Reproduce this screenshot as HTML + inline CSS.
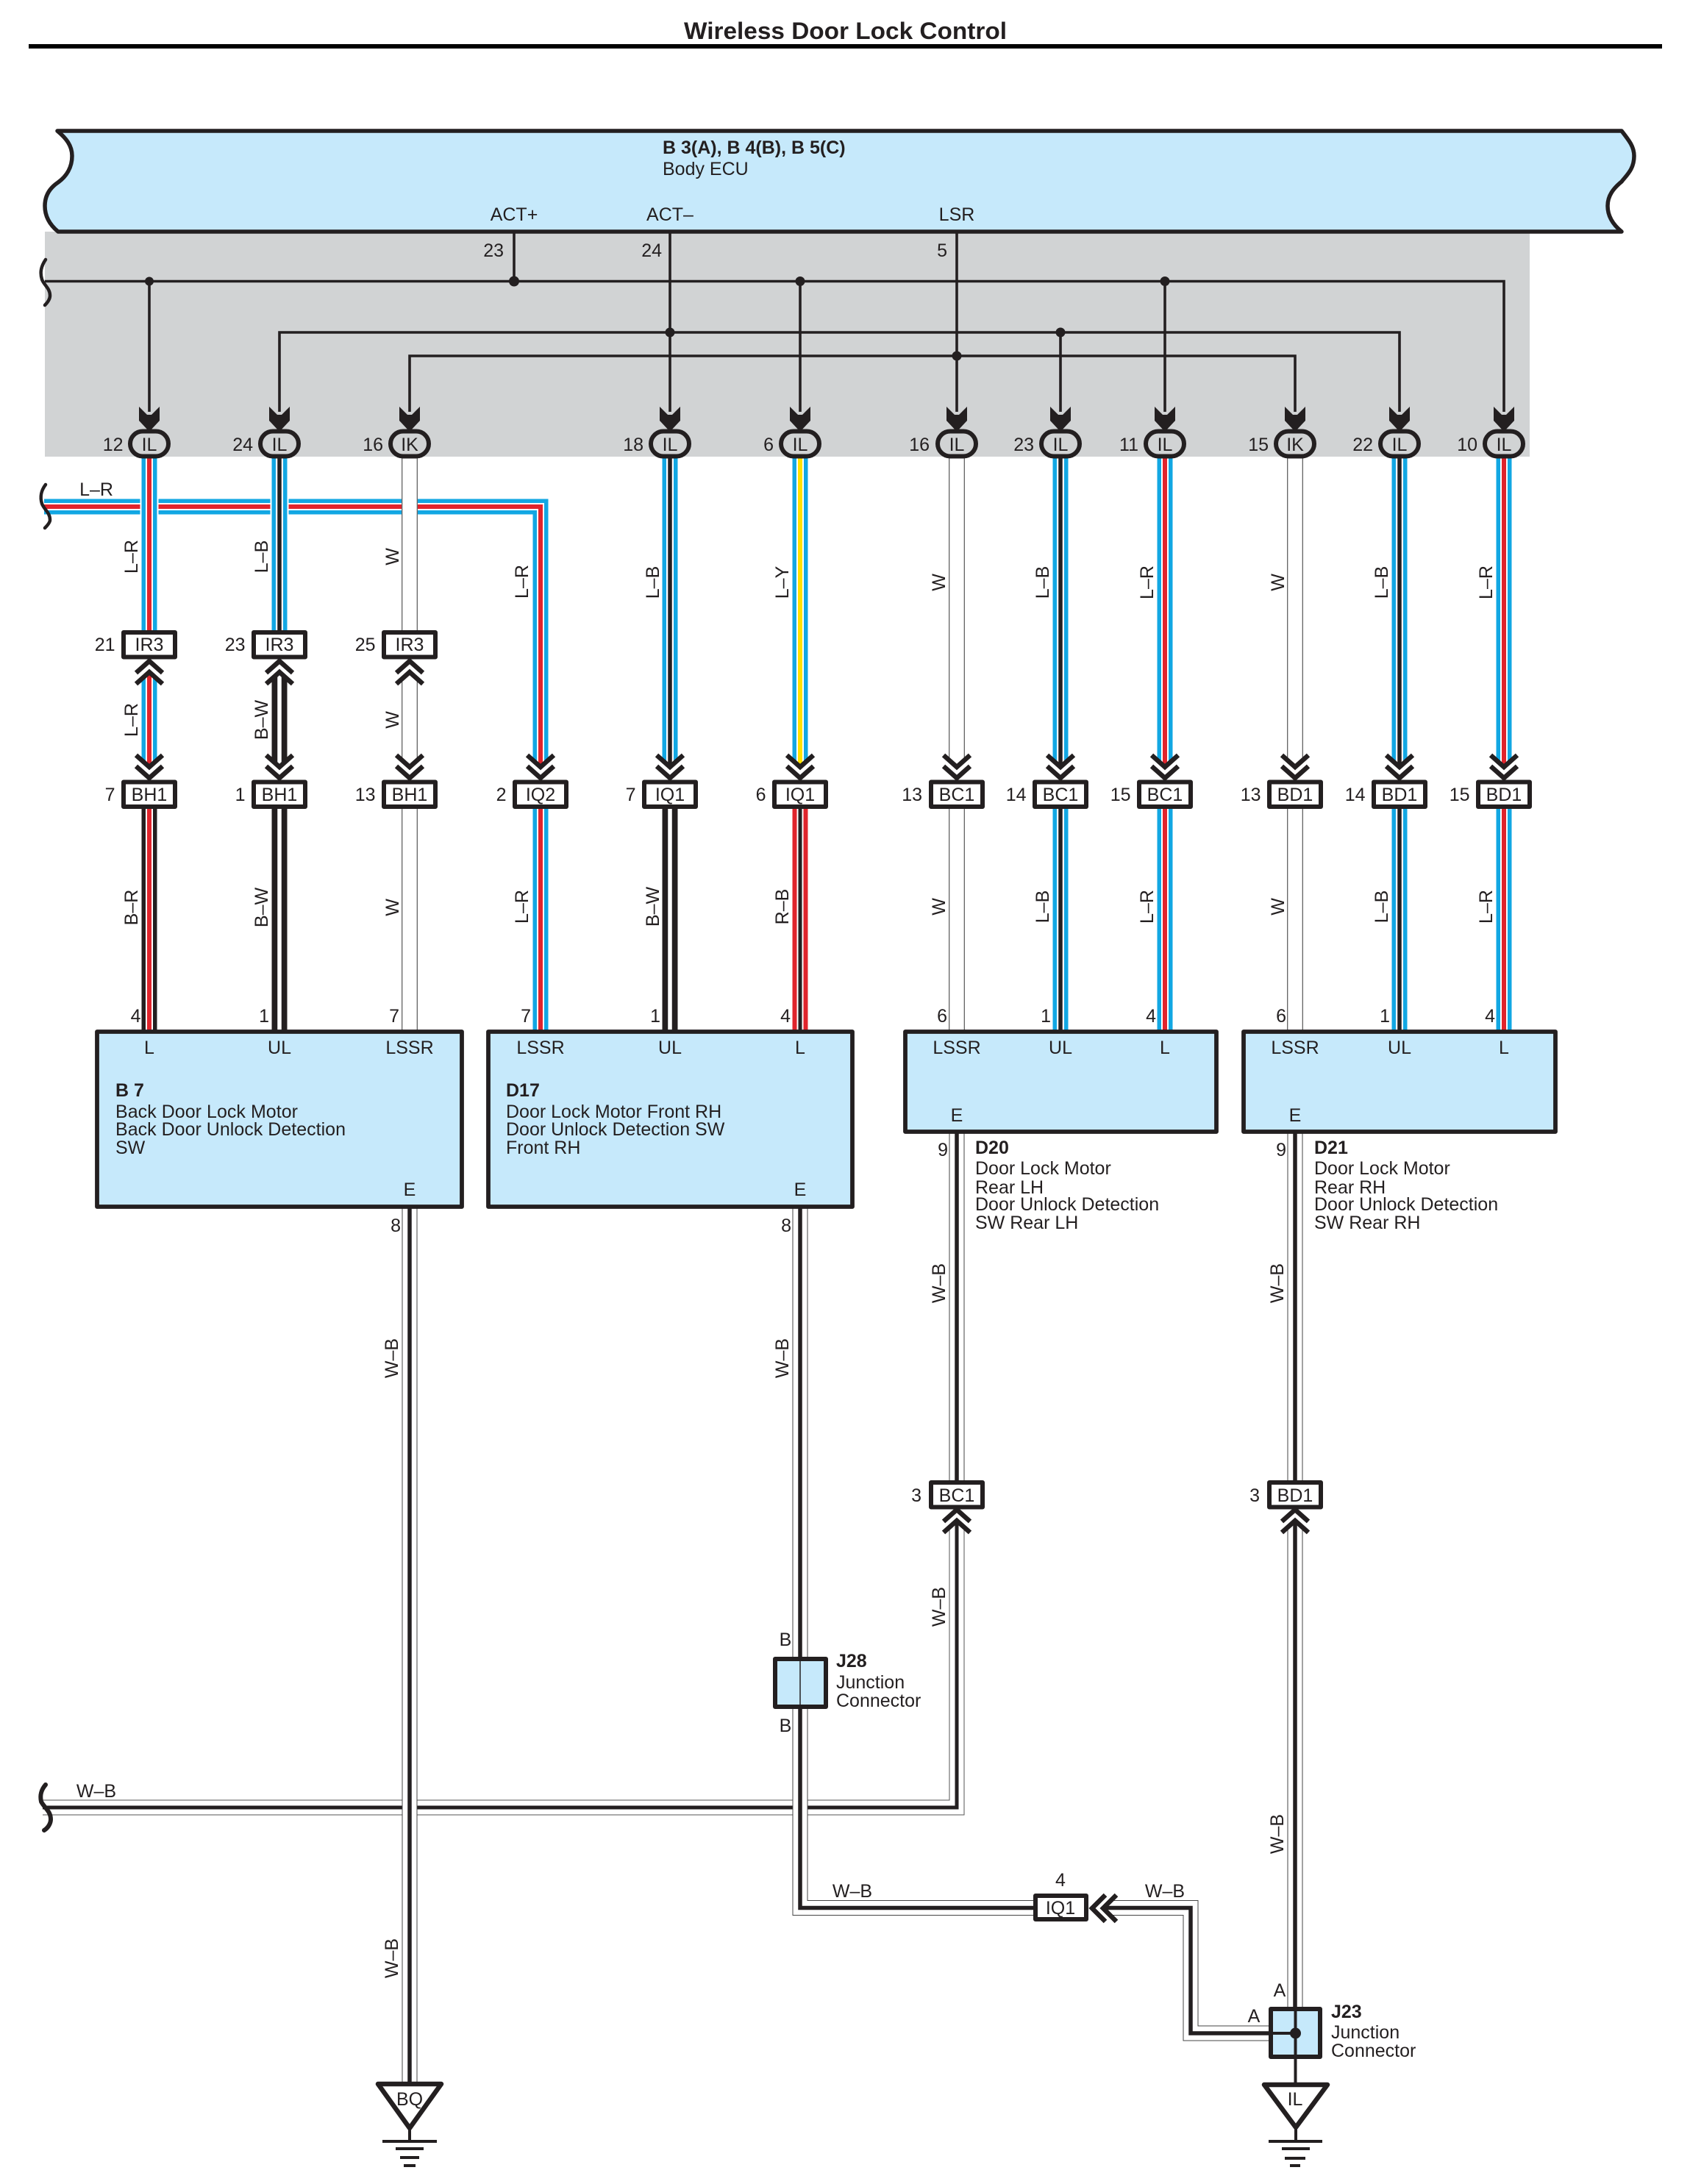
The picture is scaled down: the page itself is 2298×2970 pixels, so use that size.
<!DOCTYPE html>
<html><head><meta charset="utf-8"><title>Wireless Door Lock Control</title>
<style>
html,body{margin:0;padding:0;background:#fff}
svg{display:block}
text{font-family:"Liberation Sans",sans-serif;font-size:25px;fill:#231f20}
.b{font-weight:bold}
.m{text-anchor:middle}
.e{text-anchor:end}
.f{fill:none;stroke-linejoin:miter}
</style></head><body>
<svg xmlns="http://www.w3.org/2000/svg" width="2298" height="2970" viewBox="0 0 2298 2970">
<defs>
<path id="lrV" d="M203 604V876M203 914V1045M735 1080V1403M1584 604V1045M1584 1080V1403M2045 604V1045M2045 1080V1403"/>
<path id="lrH" d="M60 689H735V1045"/>
<path id="br" d="M203 1080V1403"/>
<path id="lb" d="M380 604V876M911 604V1045M1442 604V1045M1442 1080V1403M1903 604V1045M1903 1080V1403"/>
<path id="bw" d="M380 914V1045M380 1080V1403M911 1080V1403"/>
<path id="w" d="M557 604V876M557 914V1045M557 1080V1403M1301 604V1045M1301 1080V1403M1761 604V1045M1761 1080V1403"/>
<path id="ly" d="M1088 604V1045"/>
<path id="rb" d="M1088 1080V1403"/>
<path id="wb1" d="M58 2458H1301V2068"/>
<path id="wb2" d="M1301 1536V2032M1761 1536V2032M1761 2068V2731M557 1640V2832M1088 1640V2594.5H1442M1499 2594.5H1619V2765H1725"/>
<g id="up"><polygon points="-20,5 20,5 20,33 0,15 -20,33" fill="#fff"/><polyline class="f" points="-18,18 0,2 18,18" stroke="#231f20" stroke-width="6.5"/><polyline class="f" points="-18,33 0,17 18,33" stroke="#231f20" stroke-width="6.5"/></g>
<g id="dn"><polygon points="-20,-5 20,-5 20,-33 0,-15 -20,-33" fill="#fff"/><polyline class="f" points="-18,-18 0,-2 18,-18" stroke="#231f20" stroke-width="6.5"/><polyline class="f" points="-18,-33 0,-17 18,-33" stroke="#231f20" stroke-width="6.5"/></g>
<g id="ov"><polygon points="-14,553 -3,564 3,564 14,553 14,572 0,587 -14,572" fill="#231f20"/><rect x="-26" y="586.5" width="52" height="34" rx="17" fill="#d1d3d4" stroke="#231f20" stroke-width="6"/></g>
<rect id="bx" x="-35" y="0" width="70" height="33.5" fill="#fff" stroke="#231f20" stroke-width="6" stroke-linejoin="round"/>
</defs>

<rect width="2298" height="2970" fill="#fff"/>
<text x="930" y="53" class="b" style="font-size:32px" textLength="439" lengthAdjust="spacingAndGlyphs">Wireless Door Lock Control</text>
<rect x="39" y="60" width="2221" height="6" fill="#000"/>

<rect x="61" y="315" width="2019" height="306" fill="#d1d3d4"/>
<path d="M78 178H2205C2216 192 2222 200 2222 212C2222 230 2212 238 2205 247C2194 256 2186 266 2186 280C2186 295 2194 306 2205 315H79C68 306 61 295 61 280C61 264 70 254 79 248C90 240 98 228 98 212C98 198 90 188 78 178Z" fill="#c6e9fb" stroke="#231f20" stroke-width="5.5" stroke-linejoin="round"/>

<!-- internal ECU lines -->
<g fill="none" stroke="#231f20" stroke-width="3.6">
<path d="M61 382.5H2045V560"/>
<path d="M380 560V452H1903V560"/>
<path d="M557 560V484H1761V560"/>
<path d="M699 315V382M911 315V560M1301 315V560M203 382V560M1088 382V560M1442 452V560M1584 382V560"/>
</g>
<g fill="#231f20">
<circle cx="203" cy="382.5" r="6"/><circle cx="699" cy="382.5" r="7"/><circle cx="1088" cy="382.5" r="6.5"/><circle cx="1584" cy="382.5" r="6.5"/>
<circle cx="911" cy="452" r="6.5"/><circle cx="1442" cy="452" r="6.5"/><circle cx="1301" cy="484" r="6.5"/>
</g>

<!-- horizontal L-R wire -->
<g fill="none">
<use href="#lrH" stroke="#12a7e3" stroke-width="21"/><use href="#lrH" stroke="#fff" stroke-width="10"/><use href="#lrH" stroke="#e0242c" stroke-width="6"/>
</g>
<!-- vertical wires with halo -->
<g fill="none">
<use href="#lrV" stroke="#fff" stroke-width="25"/>
<use href="#lb" stroke="#fff" stroke-width="25"/>
<use href="#w" stroke="#fff" stroke-width="22"/>
<use href="#lrV" stroke="#12a7e3" stroke-width="21"/><use href="#lrV" stroke="#fff" stroke-width="10"/><use href="#lrV" stroke="#e0242c" stroke-width="6"/>
<use href="#br" stroke="#231f20" stroke-width="21"/><use href="#br" stroke="#fff" stroke-width="10"/><use href="#br" stroke="#e0242c" stroke-width="6"/>
<use href="#lb" stroke="#12a7e3" stroke-width="21"/><use href="#lb" stroke="#fff" stroke-width="10"/><use href="#lb" stroke="#231f20" stroke-width="5.5"/>
<use href="#bw" stroke="#231f20" stroke-width="21"/><use href="#bw" stroke="#fff" stroke-width="5.5"/>
<use href="#w" stroke="#333" stroke-width="21.5"/><use href="#w" stroke="#fff" stroke-width="19.5"/>
<use href="#ly" stroke="#12a7e3" stroke-width="21"/><use href="#ly" stroke="#fff" stroke-width="10"/><use href="#ly" stroke="#ffe100" stroke-width="6"/>
<use href="#rb" stroke="#e0242c" stroke-width="21"/><use href="#rb" stroke="#fff" stroke-width="9"/><use href="#rb" stroke="#231f20" stroke-width="5"/>
<use href="#wb1" stroke="#555" stroke-width="21"/><use href="#wb1" stroke="#fff" stroke-width="19"/><use href="#wb1" stroke="#231f20" stroke-width="5"/>
<use href="#wb2" stroke="#444" stroke-width="21"/><use href="#wb2" stroke="#fff" stroke-width="19"/><use href="#wb2" stroke="#231f20" stroke-width="5.5"/>
</g>
<g fill="none" stroke="#231f20" stroke-linecap="round">
<path stroke-width="4.5" d="M62 353C56 362 54 370 57 380C60 388 68 392 68 402C68 406 65 411 61 415"/>
<path stroke-width="4.5" d="M62 659C56 667 54 675 57 685C60 693 68 697 68 707C68 710 65 714 61 718"/>
<path stroke-width="6" d="M62 2427C56 2434 54 2441 56 2450C60 2458 69 2463 69 2474C69 2480 65 2486 60 2489"/>
</g>

<!-- ovals -->
<use href="#ov" x="203"/><use href="#ov" x="380"/><use href="#ov" x="557"/><use href="#ov" x="911"/><use href="#ov" x="1088"/><use href="#ov" x="1301"/><use href="#ov" x="1442"/><use href="#ov" x="1584"/><use href="#ov" x="1761"/><use href="#ov" x="1903"/><use href="#ov" x="2045"/>

<!-- inline boxes -->
<use href="#bx" x="203" y="860"/><use href="#bx" x="380" y="860"/><use href="#bx" x="557" y="860"/>
<use href="#bx" x="203" y="1063.5"/><use href="#bx" x="380" y="1063.5"/><use href="#bx" x="557" y="1063.5"/><use href="#bx" x="735" y="1063.5"/><use href="#bx" x="911" y="1063.5"/><use href="#bx" x="1088" y="1063.5"/><use href="#bx" x="1301" y="1063.5"/><use href="#bx" x="1442" y="1063.5"/><use href="#bx" x="1584" y="1063.5"/><use href="#bx" x="1761" y="1063.5"/><use href="#bx" x="1903" y="1063.5"/><use href="#bx" x="2045" y="1063.5"/>
<use href="#bx" x="1301" y="2016"/><use href="#bx" x="1761" y="2016"/>
<rect x="1408" y="2578" width="69" height="32" fill="#fff" stroke="#231f20" stroke-width="6" stroke-linejoin="round"/>

<!-- chevrons -->
<use href="#up" x="203" y="897"/><use href="#up" x="380" y="897"/><use href="#up" x="557" y="897"/>
<use href="#up" x="1301" y="2051"/><use href="#up" x="1761" y="2051"/>
<use href="#dn" x="203" y="1060"/><use href="#dn" x="380" y="1060"/><use href="#dn" x="557" y="1060"/><use href="#dn" x="735" y="1060"/><use href="#dn" x="911" y="1060"/><use href="#dn" x="1088" y="1060"/><use href="#dn" x="1301" y="1060"/><use href="#dn" x="1442" y="1060"/><use href="#dn" x="1584" y="1060"/><use href="#dn" x="1761" y="1060"/><use href="#dn" x="1903" y="1060"/><use href="#dn" x="2045" y="1060"/>
<polygon points="1488,2576 1518,2576 1499,2595 1518,2614 1488,2614" fill="#fff"/>
<polyline class="f" points="1503,2577 1485,2595 1503,2613" stroke="#231f20" stroke-width="6.5"/>
<polyline class="f" points="1518,2577 1500,2595 1518,2613" stroke="#231f20" stroke-width="6.5"/>

<!-- modules -->
<g fill="#c6e9fb" stroke="#231f20" stroke-width="5.8" stroke-linejoin="round">
<rect x="132" y="1403" width="496" height="238"/>
<rect x="664" y="1403" width="495" height="238"/>
<rect x="1231" y="1403" width="423" height="136"/>
<rect x="1691" y="1403" width="424" height="136"/>
<rect x="1054" y="2256" width="69" height="65" stroke-width="6"/>
<rect x="1728" y="2732" width="67" height="65" stroke-width="6"/>
</g>
<path d="M1088 2256V2321" stroke="#231f20" stroke-width="1.5"/>
<path d="M1761.5 2732V2832M1728 2765H1761" stroke="#231f20" stroke-width="4"/>
<circle cx="1761.5" cy="2765" r="7.5" fill="#231f20"/>

<!-- grounds -->
<polygon points="514,2834 600,2834 557,2894" fill="#fff" stroke="#231f20" stroke-width="6.5" stroke-linejoin="round"/>
<path d="M557 2895V2912" stroke="#231f20" stroke-width="4"/>
<path d="M520 2912H594M538 2922H576M544 2934H570M549 2945H565" stroke="#231f20" stroke-width="4"/>
<polygon points="1719,2835 1805,2835 1762,2893" fill="#fff" stroke="#231f20" stroke-width="6.5" stroke-linejoin="round"/>
<path d="M1762 2895V2912" stroke="#231f20" stroke-width="4"/>
<path d="M1725 2912H1798M1743 2922H1781M1747 2935H1775M1754 2945H1768" stroke="#231f20" stroke-width="4"/>

<!-- ECU labels -->
<text x="901" y="209" class="b">B 3(A), B 4(B), B 5(C)</text>
<text x="901" y="238">Body ECU</text>
<text x="699" y="300" class="m">ACT+</text>
<text x="911" y="300" class="m">ACT–</text>
<text x="1301" y="300" class="m">LSR</text>
<text x="685" y="349" class="e">23</text>
<text x="900" y="349" class="e">24</text>
<text x="1288" y="349" class="e">5</text>

<!-- oval labels -->
<text x="203" y="613" class="m">IL</text><text x="380" y="613" class="m">IL</text><text x="557" y="613" class="m">IK</text><text x="911" y="613" class="m">IL</text><text x="1088" y="613" class="m">IL</text><text x="1301" y="613" class="m">IL</text><text x="1442" y="613" class="m">IL</text><text x="1584" y="613" class="m">IL</text><text x="1761" y="613" class="m">IK</text><text x="1903" y="613" class="m">IL</text><text x="2045" y="613" class="m">IL</text>
<text x="167.5" y="613" class="e">12</text><text x="344" y="613" class="e">24</text><text x="521" y="613" class="e">16</text><text x="875" y="613" class="e">18</text><text x="1052" y="613" class="e">6</text><text x="1264" y="613" class="e">16</text><text x="1406" y="613" class="e">23</text><text x="1548" y="613" class="e">11</text><text x="1725" y="613" class="e">15</text><text x="1867" y="613" class="e">22</text><text x="2009" y="613" class="e">10</text>

<!-- box labels -->
<text x="203" y="885" class="m">IR3</text><text x="380" y="885" class="m">IR3</text><text x="557" y="885" class="m">IR3</text>
<text x="156.5" y="885" class="e">21</text><text x="333.5" y="885" class="e">23</text><text x="510.5" y="885" class="e">25</text>
<text x="203" y="1089" class="m">BH1</text><text x="380" y="1089" class="m">BH1</text><text x="557" y="1089" class="m">BH1</text><text x="735" y="1089" class="m">IQ2</text><text x="911" y="1089" class="m">IQ1</text><text x="1088" y="1089" class="m">IQ1</text><text x="1301" y="1089" class="m">BC1</text><text x="1442" y="1089" class="m">BC1</text><text x="1584" y="1089" class="m">BC1</text><text x="1761" y="1089" class="m">BD1</text><text x="1903" y="1089" class="m">BD1</text><text x="2045" y="1089" class="m">BD1</text>
<text x="156.5" y="1089" class="e">7</text><text x="333.5" y="1089" class="e">1</text><text x="510.5" y="1089" class="e">13</text><text x="688.5" y="1089" class="e">2</text><text x="864.5" y="1089" class="e">7</text><text x="1041.5" y="1089" class="e">6</text><text x="1254" y="1089" class="e">13</text><text x="1395.5" y="1089" class="e">14</text><text x="1537.5" y="1089" class="e">15</text><text x="1714.5" y="1089" class="e">13</text><text x="1856.5" y="1089" class="e">14</text><text x="1998.5" y="1089" class="e">15</text>
<text x="1301" y="2042" class="m">BC1</text><text x="1761" y="2042" class="m">BD1</text>
<text x="1253" y="2042" class="e">3</text><text x="1713" y="2042" class="e">3</text>
<text x="1442" y="2603" class="m">IQ1</text><text x="1442" y="2565" class="m">4</text>

<!-- rotated wire labels -->
<text class="m" transform="translate(187,757) rotate(-90)">L–R</text>
<text class="m" transform="translate(187,979) rotate(-90)">L–R</text>
<text class="m" transform="translate(187,1234) rotate(-90)">B–R</text>
<text class="m" transform="translate(364,757) rotate(-90)">L–B</text>
<text class="m" transform="translate(364,979) rotate(-90)">B–W</text>
<text class="m" transform="translate(364,1234) rotate(-90)">B–W</text>
<text class="m" transform="translate(542,757) rotate(-90)">W</text>
<text class="m" transform="translate(542,979) rotate(-90)">W</text>
<text class="m" transform="translate(542,1234) rotate(-90)">W</text>
<text class="m" transform="translate(718,791) rotate(-90)">L–R</text>
<text class="m" transform="translate(718,1233) rotate(-90)">L–R</text>
<text class="m" transform="translate(896,792) rotate(-90)">L–B</text>
<text class="m" transform="translate(896,1233) rotate(-90)">B–W</text>
<text class="m" transform="translate(1072,792) rotate(-90)">L–Y</text>
<text class="m" transform="translate(1072,1233) rotate(-90)">R–B</text>
<text class="m" transform="translate(1285,792) rotate(-90)">W</text>
<text class="m" transform="translate(1285,1233) rotate(-90)">W</text>
<text class="m" transform="translate(1426,792) rotate(-90)">L–B</text>
<text class="m" transform="translate(1426,1233) rotate(-90)">L–B</text>
<text class="m" transform="translate(1568,792) rotate(-90)">L–R</text>
<text class="m" transform="translate(1568,1233) rotate(-90)">L–R</text>
<text class="m" transform="translate(1746,792) rotate(-90)">W</text>
<text class="m" transform="translate(1746,1233) rotate(-90)">W</text>
<text class="m" transform="translate(1887,792) rotate(-90)">L–B</text>
<text class="m" transform="translate(1887,1233) rotate(-90)">L–B</text>
<text class="m" transform="translate(2029,792) rotate(-90)">L–R</text>
<text class="m" transform="translate(2029,1233) rotate(-90)">L–R</text>
<text class="m" transform="translate(541,1847) rotate(-90)">W–B</text>
<text class="m" transform="translate(1072,1847) rotate(-90)">W–B</text>
<text class="m" transform="translate(1285,1745) rotate(-90)">W–B</text>
<text class="m" transform="translate(1745,1745) rotate(-90)">W–B</text>
<text class="m" transform="translate(1285,2185) rotate(-90)">W–B</text>
<text class="m" transform="translate(1745,2494) rotate(-90)">W–B</text>
<text class="m" transform="translate(541,2663) rotate(-90)">W–B</text>
<text x="131" y="674" class="m">L–R</text>
<text x="131" y="2444" class="m">W–B</text>
<text x="1159" y="2580" class="m">W–B</text>
<text x="1584" y="2580" class="m">W–B</text>

<!-- pin numbers at modules -->
<text x="191.5" y="1390" class="e">4</text><text x="366" y="1390" class="e">1</text><text x="543" y="1390" class="e">7</text><text x="722" y="1390" class="e">7</text><text x="898" y="1390" class="e">1</text><text x="1075" y="1390" class="e">4</text><text x="1288" y="1390" class="e">6</text><text x="1429" y="1390" class="e">1</text><text x="1572" y="1390" class="e">4</text><text x="1749" y="1390" class="e">6</text><text x="1890" y="1390" class="e">1</text><text x="2033" y="1390" class="e">4</text>
<text x="545" y="1675" class="e">8</text><text x="1076" y="1675" class="e">8</text><text x="1289" y="1572" class="e">9</text><text x="1749" y="1572" class="e">9</text>

<!-- module pin labels -->
<text x="203" y="1433" class="m">L</text><text x="380" y="1433" class="m">UL</text><text x="557" y="1433" class="m">LSSR</text>
<text x="735" y="1433" class="m">LSSR</text><text x="911" y="1433" class="m">UL</text><text x="1088" y="1433" class="m">L</text>
<text x="1301" y="1433" class="m">LSSR</text><text x="1442" y="1433" class="m">UL</text><text x="1584" y="1433" class="m">L</text>
<text x="1761" y="1433" class="m">LSSR</text><text x="1903" y="1433" class="m">UL</text><text x="2045" y="1433" class="m">L</text>
<text x="557" y="1626" class="m">E</text><text x="1088" y="1626" class="m">E</text><text x="1301" y="1525" class="m">E</text><text x="1761" y="1525" class="m">E</text>

<!-- module descriptions -->
<text x="157" y="1491" class="b">B 7</text>
<text x="157" y="1520" textLength="248" lengthAdjust="spacing">Back Door Lock Motor</text>
<text x="157" y="1544" textLength="313" lengthAdjust="spacing">Back Door Unlock Detection</text>
<text x="157" y="1569">SW</text>
<text x="688" y="1491" class="b">D17</text>
<text x="688" y="1520">Door Lock Motor Front RH</text>
<text x="688" y="1544">Door Unlock Detection SW</text>
<text x="688" y="1569">Front RH</text>
<text x="1326" y="1569" class="b">D20</text>
<text x="1326" y="1597">Door Lock Motor</text>
<text x="1326" y="1623">Rear LH</text>
<text x="1326" y="1646">Door Unlock Detection</text>
<text x="1326" y="1671">SW Rear LH</text>
<text x="1787" y="1569" class="b">D21</text>
<text x="1787" y="1597">Door Lock Motor</text>
<text x="1787" y="1623">Rear RH</text>
<text x="1787" y="1646">Door Unlock Detection</text>
<text x="1787" y="1671">SW Rear RH</text>

<!-- junctions -->
<text x="1068" y="2238" class="m">B</text><text x="1068" y="2355" class="m">B</text>
<text x="1137" y="2267" class="b">J28</text><text x="1137" y="2296">Junction</text><text x="1137" y="2321">Connector</text>
<text x="1740" y="2715" class="m">A</text><text x="1705" y="2750" class="m">A</text>
<text x="1810" y="2744" class="b">J23</text><text x="1810" y="2772">Junction</text><text x="1810" y="2797">Connector</text>
<text x="1761" y="2863" class="m">IL</text>
<text x="557" y="2863" class="m">BQ</text>
</svg>
</body></html>
